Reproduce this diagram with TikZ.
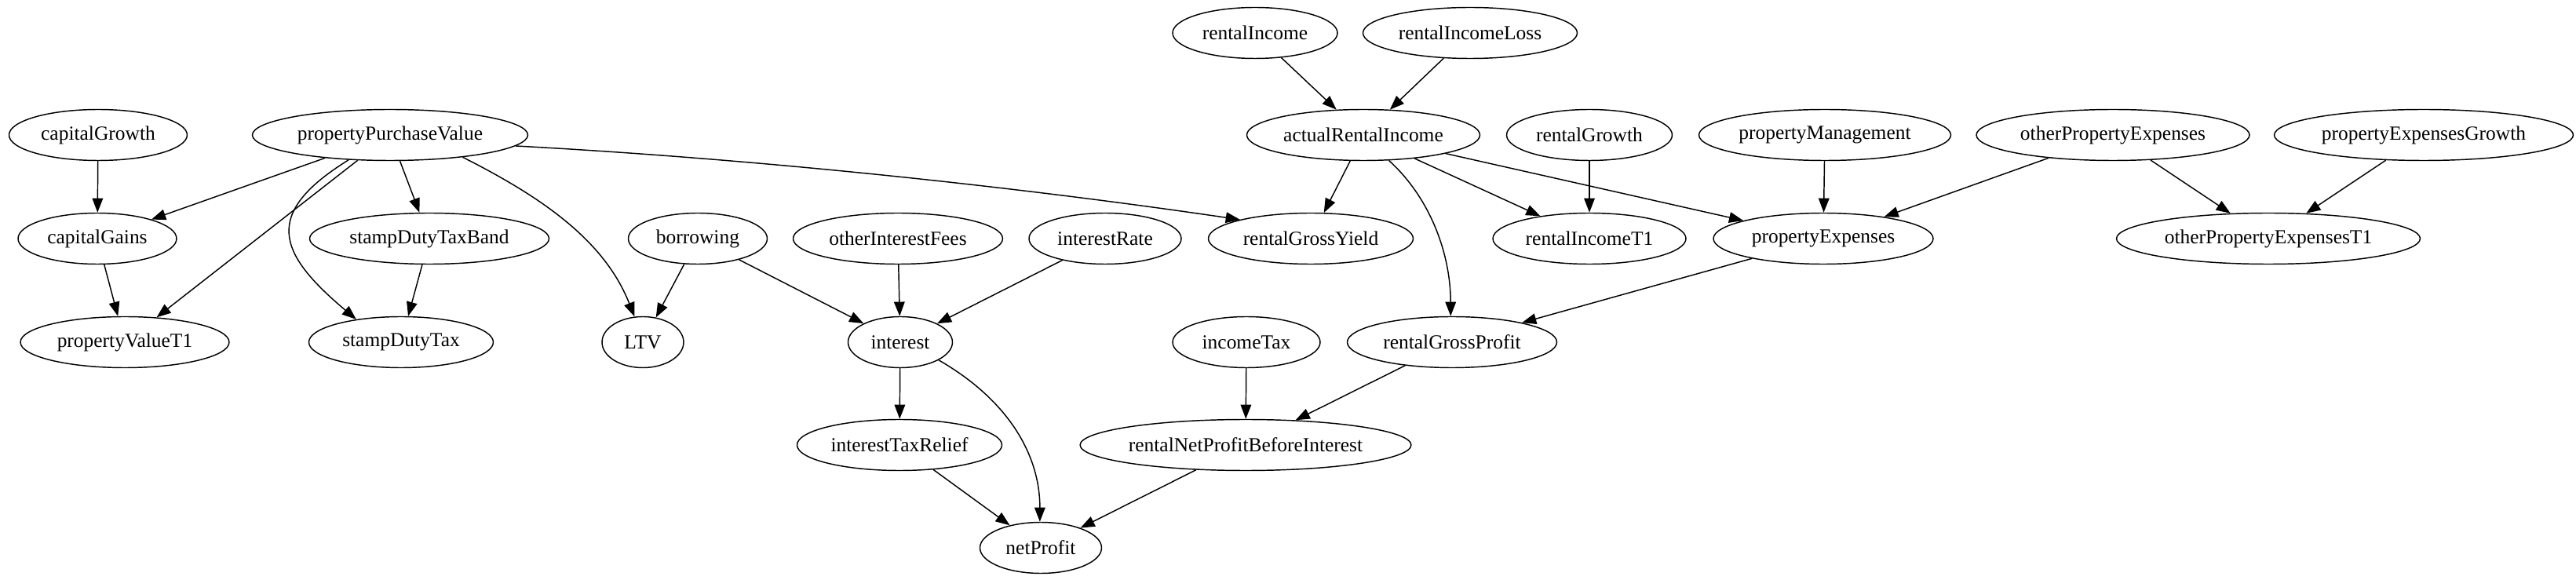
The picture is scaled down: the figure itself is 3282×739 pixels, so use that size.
\documentclass[tikz,border=0pt]{standalone}
\usepackage{fontspec}
\setmainfont{Liberation Serif}
\usetikzlibrary{shapes.geometric,arrows.meta}

\begin{document}
\begin{tikzpicture}[x=0.55pt, y=-0.55pt, font=\fontsize{14}{16}\selectfont,
  var/.style={ellipse, draw=black, line width=0.8pt, inner sep=0pt, minimum height=35.75pt, minimum width=#1*0.55pt},
  arr/.style={-{Triangle[length=10pt, width=7.5pt]}, draw=black, line width=0.8pt}]
\useasboundingbox (0,0) rectangle (3282,739);
% top row
\node[var=210] (rinc) at (1599,42) {rentalIncome};
\node[var=273] (rloss) at (1873,42) {rentalIncomeLoss};
% inputs
\node[var=227] (cgrow) at (125,172) {capitalGrowth};
\node[var=351] (ppv) at (497,172) {propertyPurchaseValue};
\node[var=297] (ari) at (1737,172) {actualRentalIncome};
\node[var=211] (rgrow) at (2025,172) {rentalGrowth};
\node[var=321] (pman) at (2325,172) {propertyManagement};
\node[var=348] (ope) at (2692,172) {otherPropertyExpenses};
\node[var=381] (pegrow) at (3088,172) {propertyExpensesGrowth};
% middle row
\node[var=202] (cgain) at (124,304) {capitalGains};
\node[var=305] (sdtb) at (547,304) {stampDutyTaxBand};
\node[var=177] (borrow) at (889,304) {borrowing};
\node[var=267] (oif) at (1144,304) {otherInterestFees};
\node[var=194] (irate) at (1408,304) {interestRate};
\node[var=261] (rgy) at (1670,304) {rentalGrossYield};
\node[var=246] (rit1) at (2025,304) {rentalIncomeT1};
\node[var=280] (pexp) at (2323,304) {propertyExpenses};
\node[var=387] (opet1) at (2890,304) {otherPropertyExpensesT1};
% lower rows
\node[var=266] (pvt1) at (159,436) {propertyValueT1};
\node[var=235] (sdt) at (511,436) {stampDutyTax};
\node[var=104] (ltv) at (819,436) {LTV};
\node[var=133] (int) at (1147,436) {interest};
\node[var=188] (itax) at (1588,436) {incomeTax};
\node[var=267] (rgp) at (1850,436) {rentalGrossProfit};
\node[var=261] (itr) at (1146,567) {interestTaxRelief};
\node[var=416] (rnp) at (1587,567) {rentalNetProfitBeforeInterest};
\node[var=155] (np) at (1326,698) {netProfit};
\foreach \u/\v in {rinc/ari, rloss/ari, cgrow/cgain, ppv/cgain, ppv/pvt1, ppv/sdtb, cgain/pvt1,
  sdtb/sdt, borrow/ltv, borrow/int, oif/int, irate/int, ari/rgy, ari/rit1, ari/pexp, rgrow/rit1,
  pman/pexp, ope/pexp, ope/opet1, pegrow/opet1, pexp/rgp, int/itr, itax/rnp, rgp/rnp, itr/np, rnp/np}
  \draw[arr] (\u) -- (\v);
% curved edges
\draw[arr] (ppv.211) .. controls (334,272) and (353,322) .. (sdt.153);
\draw[arr] (ppv.343) .. controls (696,254) and (771,309) .. (ltv.108);
\draw[arr] (ppv.355) .. controls (955,202) and (1281,236) .. (rgy.165);
\draw[arr] (ari.315) .. controls (1820,250) and (1848,320) .. (rgp.93);
\draw[arr] (int.335) .. controls (1285,510) and (1325,580) .. (np.92);
\end{tikzpicture}
\end{document}
